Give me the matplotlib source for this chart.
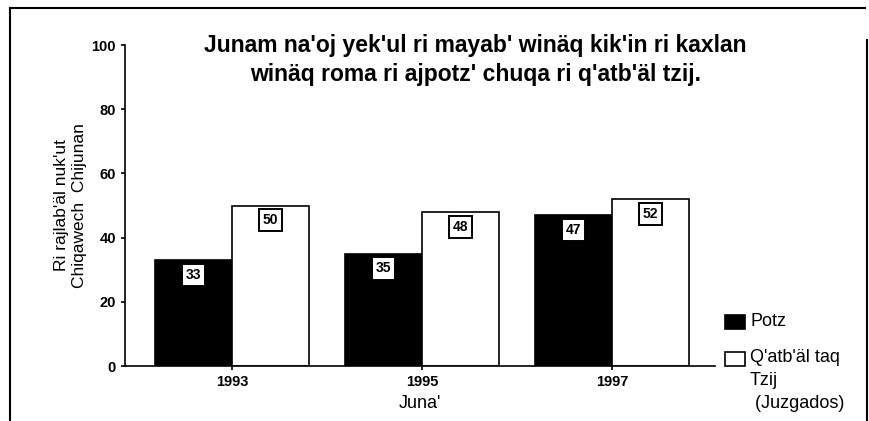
import numpy as np
import matplotlib.pyplot as plt
from matplotlib.lines import Line2D
from matplotlib.patches import Rectangle

years = ["1993", "1995", "1997"]
potz = [33, 35, 47]
qatbal = [50, 48, 52]
series_names = ["Potz", "Q'atb'äl taq\nTzij\n (Juzgados)"]

plt.rcParams["font.family"] = ["Liberation Sans", "DejaVu Sans"]

fig = plt.figure(figsize=(8.69, 4.21), dpi=100)
ax = fig.add_axes([0.1438, 0.1306, 0.679, 0.7625])

x = np.arange(len(years))
w = 0.405
ax.bar(x, potz, width=-w, align="edge", color="black", edgecolor="black", lw=1.2)
ax.bar(x, qatbal, width=w, align="edge", color="white", edgecolor="black", lw=1.2)

box = dict(boxstyle="square,pad=0.3", fc="white", ec="black", lw=1.4)
for xi, v in zip(x, potz):
    ax.text(xi - w / 2, v - 4.6, str(v), ha="center", va="center",
            fontsize=10, fontweight="bold", bbox=box)
for xi, v in zip(x, qatbal):
    ax.text(xi + w / 2, v - 4.6, str(v), ha="center", va="center",
            fontsize=10, fontweight="bold", bbox=box)

ax.set_ylim(0, 100)
ax.set_xlim(-0.563, 2.542)
ax.set_yticks([0, 20, 40, 60, 80, 100])
ax.set_xticks(x)
ax.set_xticklabels(years)
ax.tick_params(labelsize=10.5, length=3, width=1.2)
for t in ax.get_xticklabels() + ax.get_yticklabels():
    t.set_fontweight("bold")
for s in ["top", "right"]:
    ax.spines[s].set_visible(False)
for s in ["left", "bottom"]:
    ax.spines[s].set_linewidth(1.2)

ax.set_xlabel("Juna'", fontsize=13, labelpad=4)
ax.set_ylabel("Ri rajlab'äl nuk'ut\nChiqawech  Chijunan", fontsize=12.5,
              labelpad=3, linespacing=1.3)

fig.text(0.547, 0.795, "Junam na'oj yek'ul ri mayab' winäq kik'in ri kaxlan\n"
         "winäq roma ri ajpotz' chuqa ri q'atb'äl tzij.",
         ha="center", va="bottom", fontsize=16.5, fontweight="bold", linespacing=1.35)

# legend drawn by hand so the marker sits on the first line of each label
fig.add_artist(Rectangle((725 / 869, 1 - 329 / 421), 20 / 869, 14 / 421,
                         transform=fig.transFigure, fc="black", ec="black", lw=1.2))
fig.add_artist(Rectangle((725 / 869, 1 - 366 / 421), 20 / 869, 14 / 421,
                         transform=fig.transFigure, fc="white", ec="black", lw=1.2))
fig.text(750 / 869, 1 - 321 / 421, series_names[0], ha="left", va="center", fontsize=13)
fig.text(750 / 869, 1 - 349 / 421, series_names[1], ha="left", va="top", fontsize=13,
         linespacing=1.45)

# scanned page frame
fig.add_artist(Line2D([0.012, 0.012], [0.0, 0.981], color="black", lw=1.5))
fig.add_artist(Line2D([0.012, 0.995], [0.981, 0.981], color="black", lw=1.5))
fig.add_artist(Line2D([0.998, 0.998], [0.0, 0.905], color="black", lw=1.5))

fig.savefig("out.png", dpi=100)
